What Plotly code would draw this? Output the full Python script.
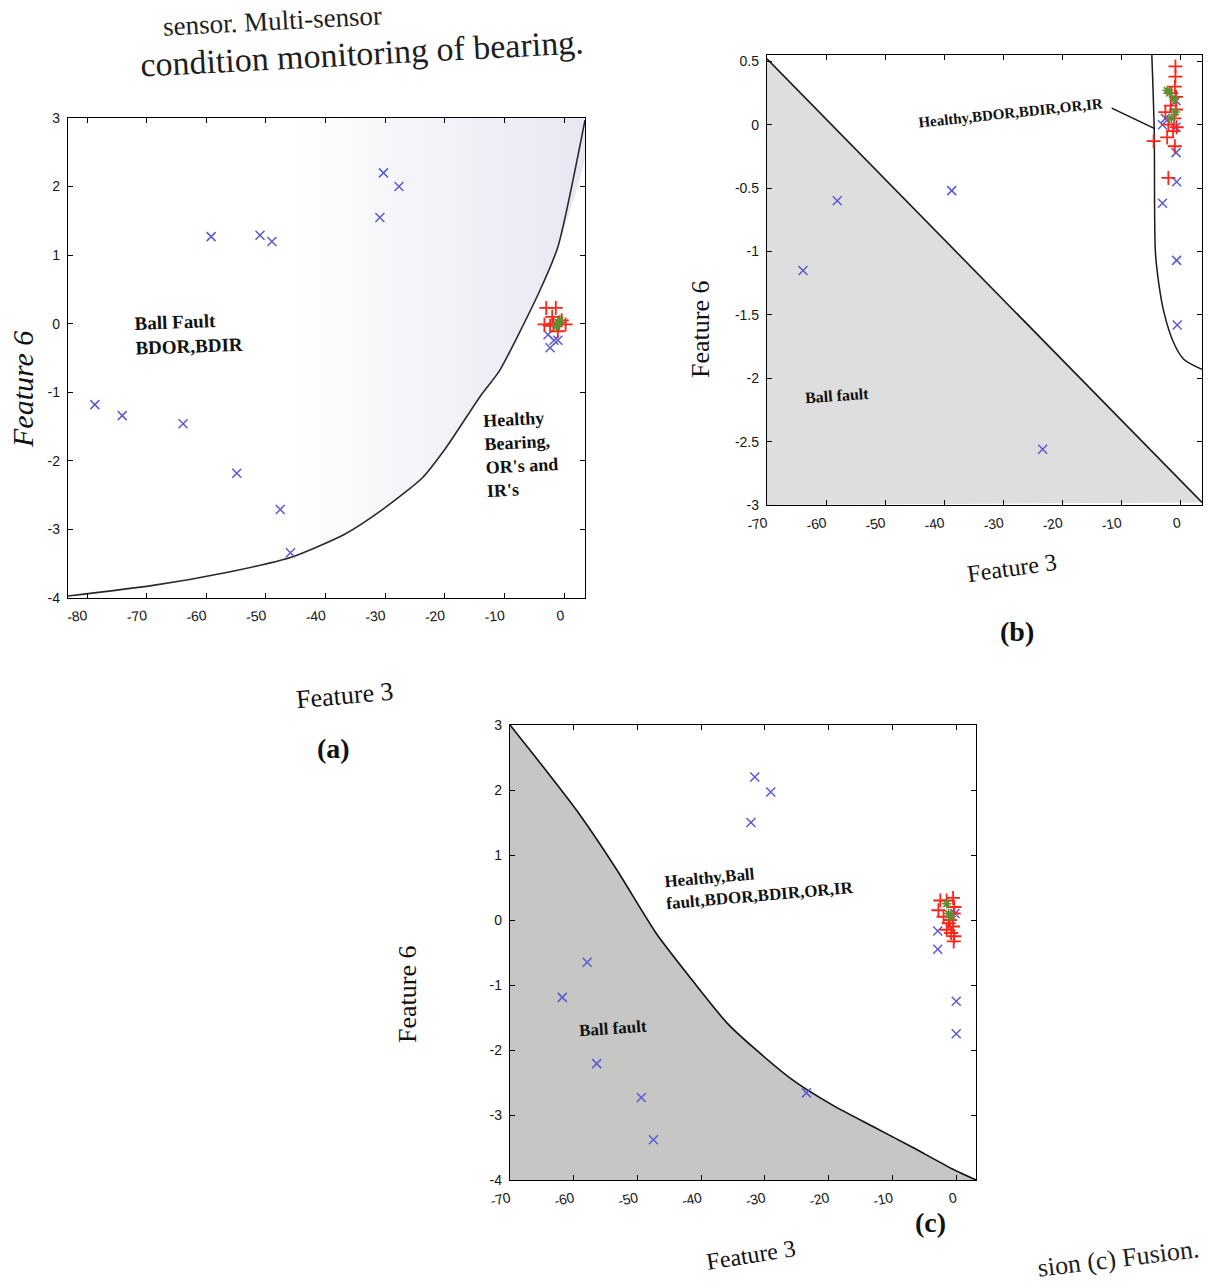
import plotly.graph_objects as go

W, H = 1211, 1288

# ---------------- Panel (a) ----------------
A_XRANGE = [-83.2, 3.5]
A_YRANGE = [-4, 3]
A_XTICKS = [-80, -70, -60, -50, -40, -30, -20, -10, 0]
A_XTICKTEXT = ["-80", "-70", "-60", "-50", "-40", "-30", "-20", "-10", "0"]
A_YTICKS = [-4, -3, -2, -1, 0, 1, 2, 3]
A_YTICKTEXT = ["-4", "-3", "-2", "-1", "0", "1", "2", "3"]

A_BOUND_X = [-83.2, -69.2, -56.2, -45.9, -36.8, -30.3, -23.8, -19.9, -14.0, -10.8, -4.3, -1.05, 3.5]
A_BOUND_Y = [-3.97, -3.82, -3.62, -3.41, -3.07, -2.70, -2.25, -1.82, -1.05, -0.68, 0.44, 1.12, 2.97]

A_BALL_X = [-59.2, -51.0, -49.0, -30.3, -27.7, -30.9, -78.7, -74.1, -63.9, -54.9, -47.6, -45.9,
            -2.7, -1.7, -1.05, -2.35]
A_BALL_Y = [1.27, 1.29, 1.2, 2.2, 2.0, 1.55, -1.18, -1.34, -1.46, -2.18, -2.71, -3.34,
            -0.16, -0.24, -0.24, -0.35]
A_RED_X = [-3.0, -1.4, -3.3, -2.35, -0.4, 0.25, -1.05, -1.8, -0.8, -2.0]
A_RED_Y = [0.23, 0.23, -0.01, -0.03, 0.05, -0.01, -0.11, 0.0, 0.02, 0.1]
A_GRN_X = [-1.05, -0.7, -1.3]
A_GRN_Y = [0.02, 0.05, -0.04]

# ---------------- Panel (b) ----------------
B_XRANGE = [-70, 3.7]
B_YRANGE = [-3, 0.55]
B_XTICKS = [-70, -60, -50, -40, -30, -20, -10, 0]
B_XTICKTEXT = ["-70", "-60", "-50", "-40", "-30", "-20", "-10", "0"]
B_YTICKS = [-3, -2.5, -2, -1.5, -1, -0.5, 0, 0.5]
B_YTICKTEXT = ["-3", "-2.5", "-2", "-1.5", "-1", "-0.5", "0", "0.5"]

B_DIAG_X = [-70, 3.7]
B_DIAG_Y = [0.52, -2.98]
B_CURVE_X = [-4.8, -4.4, -4.2, -3.6, -2.8, -1.1, 0.6, 3.7]
B_CURVE_Y = [0.55, -0.04, -1.0, -1.26, -1.47, -1.72, -1.85, -1.93]

B_BALL_X = [-58.1, -63.9, -38.7, -23.3, -0.7, -3.0, -0.7, -2.5, -0.7, -0.6, -3.0, -0.6, -0.5]
B_BALL_Y = [-0.6, -1.15, -0.52, -2.56, 0.19, 0.0, -0.02, 0.05, -0.22, -0.45, -0.62, -1.07, -1.58]
B_RED_X = [-0.8, -0.8, -0.9, -1.5, -0.7, -2.5, -1.0, -2.0, -1.2, -2.2, -4.5, -0.9, -2.0, -0.7, -1.6, -0.6]
B_RED_Y = [0.46, 0.38, 0.30, 0.25, 0.22, 0.10, 0.05, 0.0, -0.05, -0.10, -0.13, -0.17, -0.42, 0.12, 0.15, -0.02]
B_GRN_X = [-2.2, -1.8, -0.8, -1.5, -1.0]
B_GRN_Y = [0.27, 0.25, 0.10, 0.05, 0.2]

# ---------------- Panel (c) ----------------
C_XRANGE = [-70, 3.1]
C_YRANGE = [-4, 3]
C_XTICKS = [-70, -60, -50, -40, -30, -20, -10, 0]
C_XTICKTEXT = ["-70", "-60", "-50", "-40", "-30", "-20", "-10", "0"]
C_YTICKS = [-4, -3, -2, -1, 0, 1, 2, 3]
C_YTICKTEXT = ["-4", "-3", "-2", "-1", "0", "1", "2", "3"]

C_CURVE_X = [-70, -65.7, -59.5, -53.3, -47.1, -40.9, -35.9, -31.6, -25.4, -19.2, -13.0, -6.8, -0.6, 3.1]
C_CURVE_Y = [3.0, 2.47, 1.68, 0.78, -0.2, -0.99, -1.59, -1.98, -2.48, -2.86, -3.18, -3.5, -3.83, -4.0]

C_BALL_X = [-31.6, -29.1, -32.2, -57.9, -61.8, -56.4, -49.4, -47.5, -23.5, -2.9, -2.9, 0.0, 0.0, -0.2]
C_BALL_Y = [2.2, 1.97, 1.5, -0.65, -1.19, -2.21, -2.73, -3.38, -2.66, -0.17, -0.45, -1.25, -1.75, 0.1]
C_RED_X = [-2.5, -1.5, -0.5, -0.3, -0.4, -2.0, -1.0, -0.5, -1.5, -0.3, -0.4, -2.8, -1.2, -0.8]
C_RED_Y = [0.3, 0.3, 0.34, 0.2, 0.1, 0.05, 0.0, -0.1, -0.15, -0.25, -0.33, 0.15, -0.05, -0.2]
C_GRN_X = [-1.5, -1.2, -0.8]
C_GRN_Y = [0.25, 0.1, 0.05]

BLUE = "#5a5ad2"
RED = "#ff2418"
GREEN = "#5f8f34"
SERIF = "Liberation Serif, Times New Roman, serif"
SANS = "Liberation Sans, Arial, sans-serif"


def px_dom_x(left, right):
    return [left / W, right / W]


def px_dom_y(top, bottom):
    return [1 - bottom / H, 1 - top / H]


def frame_axis(domain, rng, tickvals, ticktext, angle=0, anchor=None):
    return dict(domain=domain, range=rng, tickvals=tickvals, ticktext=ticktext,
                showline=True, linecolor="black", linewidth=1.4, mirror="ticks",
                ticks="inside", ticklen=5, tickwidth=1.1, tickcolor="black",
                showgrid=False, zeroline=False, tickangle=angle, anchor=anchor,
                ticklabelstandoff=4, automargin=False,
                tickfont=dict(family=SANS, size=14, color="#151515"))


def markers(x, y, xa, ya, symbol, color, size, width):
    return go.Scatter(x=x, y=y, xaxis=xa, yaxis=ya, mode="markers", showlegend=False,
                      marker=dict(symbol=symbol, size=size, color=color,
                                  line=dict(color=color, width=width)))


fig = go.Figure()

# ----- (a): faint shading left of the decision curve -----
fig.add_trace(go.Scatter(
    x=A_BOUND_X + [A_XRANGE[0]], y=A_BOUND_Y + [A_YRANGE[1]],
    xaxis="x", yaxis="y", mode="lines", fill="toself", showlegend=False,
    line=dict(width=0, shape="spline", smoothing=0.6),
    fillgradient=dict(type="horizontal", start=-46, stop=A_XRANGE[1],
                      colorscale=[[0, "rgb(255,255,255)"], [1, "rgb(230,231,242)"]])))
fig.add_trace(go.Scatter(x=A_BOUND_X, y=A_BOUND_Y, xaxis="x", yaxis="y", mode="lines",
                         showlegend=False,
                         line=dict(color="#2a2a2a", width=1.6, shape="spline", smoothing=0.6)))
fig.add_trace(markers(A_BALL_X, A_BALL_Y, "x", "y", "x-thin-open", BLUE, 9, 1.5))
fig.add_trace(markers(A_RED_X, A_RED_Y, "x", "y", "cross-thin-open", RED, 10, 1.8))
fig.add_trace(markers(A_GRN_X, A_GRN_Y, "x", "y", "asterisk-open", GREEN, 8, 1.6))

# ----- (b): linear split, gray region below the diagonal -----
fig.add_trace(go.Scatter(
    x=B_DIAG_X + [B_XRANGE[0]], y=B_DIAG_Y + [B_YRANGE[0]],
    xaxis="x2", yaxis="y2", mode="lines", fill="toself", fillcolor="#dedede",
    line=dict(width=0), showlegend=False))
fig.add_trace(go.Scatter(x=B_DIAG_X, y=B_DIAG_Y, xaxis="x2", yaxis="y2", mode="lines",
                         showlegend=False, line=dict(color="#1a1a1a", width=1.6)))
fig.add_trace(go.Scatter(x=B_CURVE_X, y=B_CURVE_Y, xaxis="x2", yaxis="y2", mode="lines",
                         showlegend=False,
                         line=dict(color="#1a1a1a", width=1.5, shape="spline", smoothing=0.8)))
fig.add_trace(markers(B_BALL_X, B_BALL_Y, "x2", "y2", "x-thin-open", BLUE, 9, 1.5))
fig.add_trace(markers(B_RED_X, B_RED_Y, "x2", "y2", "cross-thin-open", RED, 10, 1.8))
fig.add_trace(markers(B_GRN_X, B_GRN_Y, "x2", "y2", "asterisk-open", GREEN, 8, 1.6))

# ----- (c): fused features, gray region under the curve -----
fig.add_trace(go.Scatter(
    x=C_CURVE_X + [C_XRANGE[0]], y=C_CURVE_Y + [C_YRANGE[0]],
    xaxis="x3", yaxis="y3", mode="lines", fill="toself", fillcolor="#c6c6c4",
    line=dict(width=0, shape="spline", smoothing=0.6), showlegend=False))
fig.add_trace(go.Scatter(x=C_CURVE_X, y=C_CURVE_Y, xaxis="x3", yaxis="y3", mode="lines",
                         showlegend=False,
                         line=dict(color="#111111", width=1.6, shape="spline", smoothing=0.6)))
fig.add_trace(markers(C_BALL_X, C_BALL_Y, "x3", "y3", "x-thin-open", BLUE, 9, 1.5))
fig.add_trace(markers(C_RED_X, C_RED_Y, "x3", "y3", "cross-thin-open", RED, 10, 1.8))
fig.add_trace(markers(C_GRN_X, C_GRN_Y, "x3", "y3", "asterisk-open", GREEN, 8, 1.6))


def note(text, x, y, size, xref="paper", yref="paper", angle=0, bold=False, italic=False,
         family=SERIF, xanchor="center", yanchor="middle", align="center", color="#111"):
    if bold:
        text = "<b>" + text.replace("<br>", "</b><br><b>") + "</b>"
    if italic:
        text = "<i>" + text + "</i>"
    return dict(text=text, x=x, y=y, xref=xref, yref=yref, showarrow=False,
                textangle=angle, xanchor=xanchor, yanchor=yanchor, align=align,
                font=dict(family=family, size=size, color=color))


def pp(px, py):
    return px / W, 1 - py / H


annotations = []
# running page text around the figure
for txt, (cx, cy), sz, ang in [
    ("sensor. Multi-sensor", (272, 21), 27, -3),
    ("condition monitoring of bearing.", (362, 54), 34, -3),
    ("sion (c) Fusion.", (1118, 1258), 26, -7),
]:
    x, y = pp(cx, cy)
    annotations.append(note(txt, x, y, sz, angle=ang, color="#1e1e1e"))

# axis titles and panel letters
for txt, (cx, cy), sz, ang, ital in [
    ("Feature 6", (22, 390), 30, -90, True),
    ("Feature 3", (344, 695), 26, -5, False),
    ("Feature 6", (700, 330), 26, -90, False),
    ("Feature 3", (1012, 568), 24, -8, False),
    ("Feature 6", (407, 995), 26, -90, False),
    ("Feature 3", (751, 1255), 24, -9, False),
]:
    x, y = pp(cx, cy)
    annotations.append(note(txt, x, y, sz, angle=ang, italic=ital))

for txt, (cx, cy) in [("(a)", (333, 748)), ("(b)", (1017, 632)), ("(c)", (930, 1222))]:
    x, y = pp(cx, cy)
    annotations.append(note(txt, x, y, 28, bold=True))

# region labels in data coordinates
annotations += [
    note("Ball Fault<br>BDOR,BDIR", -72.4, -0.15, 19, xref="x", yref="y", bold=True,
         xanchor="left", align="left", angle=-2),
    note("Healthy<br>Bearing,<br>OR's and<br>IR's", -14.0, -1.9, 18, xref="x", yref="y",
         bold=True, xanchor="left", align="left", angle=-3),
    note("Healthy,BDOR,BDIR,OR,IR", -28.8, 0.09, 15, xref="x2", yref="y2", bold=True, angle=-6),
    note("Ball fault", -58.1, -2.14, 16, xref="x2", yref="y2", bold=True, angle=-4),
    note("Healthy,Ball<br>fault,BDOR,BDIR,OR,IR", -46.3, 0.55, 17, xref="x3", yref="y3",
         bold=True, xanchor="left", align="left", angle=-5),
    note("Ball fault", -53.9, -1.67, 17, xref="x3", yref="y3", bold=True, angle=-4),
]

# leader from the (b) label to the enclosed strip
B_LEADER_X = [-11.6, -4.3]
B_LEADER_Y = [0.13, -0.03]
shapes = [dict(type="line", xref="x2", yref="y2", x0=B_LEADER_X[0], y0=B_LEADER_Y[0],
               x1=B_LEADER_X[1], y1=B_LEADER_Y[1], line=dict(color="#111", width=1.4))]

fig.update_layout(
    width=W, height=H, autosize=False,
    margin=dict(l=0, r=0, t=0, b=0, pad=0),
    paper_bgcolor="white", plot_bgcolor="white",
    showlegend=False,
    xaxis=frame_axis(px_dom_x(68, 585), A_XRANGE, A_XTICKS, A_XTICKTEXT, angle=-6, anchor="y"),
    yaxis=frame_axis(px_dom_y(118, 598), A_YRANGE, A_YTICKS, A_YTICKTEXT, anchor="x"),
    xaxis2=frame_axis(px_dom_x(767, 1202), B_XRANGE, B_XTICKS, B_XTICKTEXT, angle=-10, anchor="y2"),
    yaxis2=frame_axis(px_dom_y(55, 505), B_YRANGE, B_YTICKS, B_YTICKTEXT, anchor="x2"),
    xaxis3=frame_axis(px_dom_x(510, 976), C_XRANGE, C_XTICKS, C_XTICKTEXT, angle=-12, anchor="y3"),
    yaxis3=frame_axis(px_dom_y(725, 1180), C_YRANGE, C_YTICKS, C_YTICKTEXT, anchor="x3"),
    annotations=annotations,
    shapes=shapes,
)

fig.write_html("out.html")
